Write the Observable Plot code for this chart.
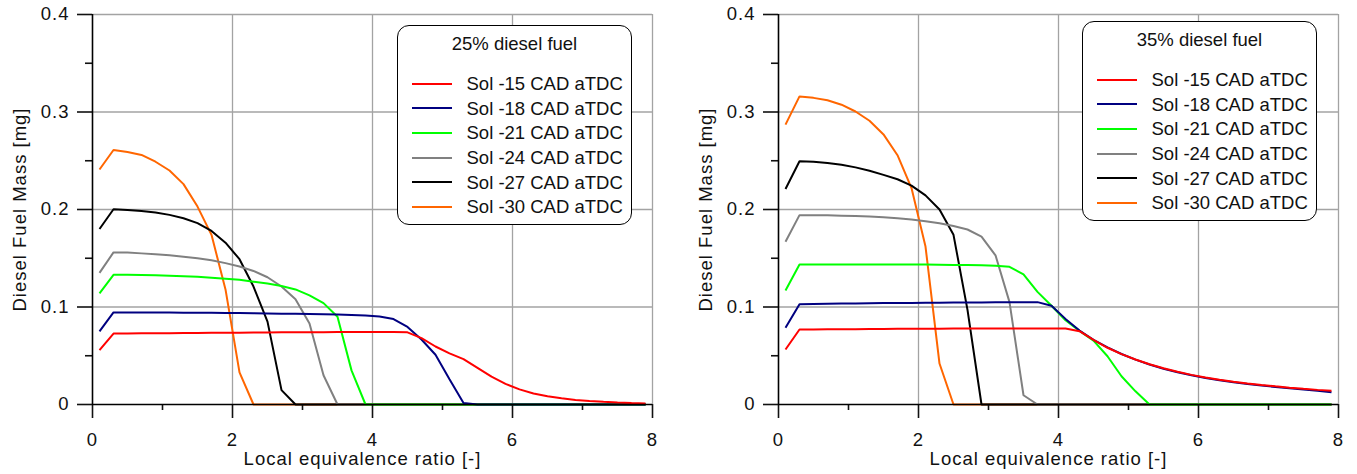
<!DOCTYPE html>
<html>
<head>
<meta charset="utf-8">
<script src="https://cdn.jsdelivr.net/npm/d3@7"></script>
<script src="https://cdn.jsdelivr.net/npm/@observablehq/plot@0.6"></script>
<style>
  html, body { margin: 0; padding: 0; background: #fff; }
  #fig { position: relative; width: 1357px; height: 474px; display: flex; font-family: "Liberation Sans", Arial, sans-serif; }
  #fig svg text { font-size: 18.5px; letter-spacing: 1px; }
  .panel { position: relative; height: 474px; flex: none; }
  .legend { position: absolute; box-sizing: border-box; width: 235px; height: 200px;
            border: 1px solid #000; border-radius: 12px; background: #fff;
            font-size: 18.5px; color: #111; }
  .legend .title { position: absolute; left: 0; right: 0; text-align: center; line-height: 20px; white-space: nowrap; }
  .legend .swatch { position: absolute; left: 14px; width: 40px; height: 2px; }
  .legend .label { position: absolute; left: 68.5px; line-height: 20px; white-space: nowrap; }
</style>
</head>
<body>
<div id="fig"></div>
<script>
// Local equivalence ratio at which each fuel-mass value is reported [-]
const phi = [0.1, 0.3, 0.5, 0.7, 0.9, 1.1, 1.3, 1.5, 1.7, 1.9,
             2.1, 2.3, 2.5, 2.7, 2.9, 3.1, 3.3, 3.5, 3.7, 3.9,
             4.1, 4.3, 4.5, 4.7, 4.9, 5.1, 5.3, 5.5, 5.7, 5.9,
             6.1, 6.3, 6.5, 6.7, 6.9, 7.1, 7.3, 7.5, 7.7, 7.9];

// Start-of-injection cases and their line colours
const seriesNames = ["Sol -15 CAD aTDC", "Sol -18 CAD aTDC", "Sol -21 CAD aTDC",
                     "Sol -24 CAD aTDC", "Sol -27 CAD aTDC", "Sol -30 CAD aTDC"];
const seriesColors = ["#ff0000", "#000080", "#00ff00", "#808080", "#000000", "#ff6600"];

// 25% diesel fuel: diesel fuel mass [mg]
const sol15_25 = [0.0557, 0.0728, 0.0729, 0.0730, 0.0731, 0.0732, 0.0733, 0.0734, 0.0735, 0.0736,
                  0.0737, 0.0738, 0.0739, 0.0740, 0.0741, 0.0742, 0.0742, 0.0743, 0.0743, 0.0744,
                  0.0744, 0.0744, 0.0740, 0.0680, 0.0595, 0.0525, 0.0465, 0.0375, 0.0285, 0.0212,
                  0.0155, 0.0113, 0.0085, 0.0063, 0.0047, 0.0036, 0.0028, 0.0021, 0.0015, 0.0010];
const sol18_25 = [0.0750, 0.0944, 0.0944, 0.0944, 0.0943, 0.0943, 0.0942, 0.0941, 0.0940, 0.0939,
                  0.0938, 0.0936, 0.0934, 0.0932, 0.0930, 0.0928, 0.0926, 0.0923, 0.0918, 0.0912,
                  0.0903, 0.0876, 0.0795, 0.0667, 0.0510, 0.0260, 0.0015, 0, 0, 0,
                  0, 0, 0, 0, 0, 0, 0, 0, 0, 0];
const sol21_25 = [0.1140, 0.1330, 0.1330, 0.1328, 0.1325, 0.1320, 0.1315, 0.1310, 0.1300, 0.1290,
                  0.1280, 0.1260, 0.1240, 0.1215, 0.1180, 0.1120, 0.1040, 0.0900, 0.0350, 0,
                  0, 0, 0, 0, 0, 0, 0, 0, 0, 0,
                  0, 0, 0, 0, 0, 0, 0, 0, 0, 0];
const sol24_25 = [0.1350, 0.1560, 0.1558, 0.1550, 0.1540, 0.1530, 0.1515, 0.1500, 0.1480, 0.1450,
                  0.1415, 0.1370, 0.1305, 0.1210, 0.1080, 0.0830, 0.0300, 0, 0, 0,
                  0, 0, 0, 0, 0, 0, 0, 0, 0, 0,
                  0, 0, 0, 0, 0, 0, 0, 0, 0, 0];
const sol27_25 = [0.1800, 0.2003, 0.1995, 0.1985, 0.1970, 0.1945, 0.1910, 0.1860, 0.1780, 0.1660,
                  0.1490, 0.1210, 0.0850, 0.0147, 0, 0, 0, 0, 0, 0,
                  0, 0, 0, 0, 0, 0, 0, 0, 0, 0,
                  0, 0, 0, 0, 0, 0, 0, 0, 0, 0];
const sol30_25 = [0.2410, 0.2610, 0.2590, 0.2560, 0.2490, 0.2400, 0.2260, 0.2030, 0.1740, 0.1180,
                  0.0330, 0, 0, 0, 0, 0, 0, 0, 0, 0,
                  0, 0, 0, 0, 0, 0, 0, 0, 0, 0,
                  0, 0, 0, 0, 0, 0, 0, 0, 0, 0];

// 35% diesel fuel: diesel fuel mass [mg]
const sol15_35 = [0.0564, 0.0769, 0.0770, 0.0771, 0.0772, 0.0773, 0.0774, 0.0775, 0.0776, 0.0777,
                  0.0778, 0.0778, 0.0779, 0.0779, 0.0780, 0.0780, 0.0780, 0.0780, 0.0780, 0.0780,
                  0.0780, 0.0752, 0.0662, 0.0582, 0.0517, 0.0461, 0.0413, 0.0371, 0.0335, 0.0304,
                  0.0277, 0.0254, 0.0234, 0.0216, 0.0200, 0.0186, 0.0173, 0.0161, 0.0150, 0.0140];
const sol18_35 = [0.0786, 0.1029, 0.1031, 0.1033, 0.1035, 0.1037, 0.1039, 0.1040, 0.1041, 0.1042,
                  0.1043, 0.1044, 0.1045, 0.1046, 0.1047, 0.1048, 0.1049, 0.1050, 0.1050, 0.1013,
                  0.0878, 0.0758, 0.0664, 0.0585, 0.0518, 0.0460, 0.0410, 0.0367, 0.0330, 0.0299,
                  0.0272, 0.0249, 0.0229, 0.0211, 0.0195, 0.0180, 0.0166, 0.0153, 0.0140, 0.0125];
const sol21_35 = [0.1170, 0.1436, 0.1437, 0.1437, 0.1437, 0.1437, 0.1437, 0.1437, 0.1436, 0.1436,
                  0.1435, 0.1434, 0.1432, 0.1430, 0.1427, 0.1423, 0.1412, 0.1335, 0.1155, 0.1013,
                  0.0864, 0.0755, 0.0655, 0.0495, 0.0290, 0.0135, 0, 0, 0, 0,
                  0, 0, 0, 0, 0, 0, 0, 0, 0, 0];
const sol24_35 = [0.1670, 0.1942, 0.1942, 0.1940, 0.1937, 0.1933, 0.1927, 0.1920, 0.1910, 0.1898,
                  0.1880, 0.1858, 0.1830, 0.1795, 0.1722, 0.1530, 0.1050, 0.0095, 0, 0,
                  0, 0, 0, 0, 0, 0, 0, 0, 0, 0,
                  0, 0, 0, 0, 0, 0, 0, 0, 0, 0];
const sol27_35 = [0.2210, 0.2495, 0.2490, 0.2477, 0.2458, 0.2432, 0.2397, 0.2355, 0.2310, 0.2245,
                  0.2145, 0.2000, 0.1740, 0.0970, 0, 0, 0, 0, 0, 0,
                  0, 0, 0, 0, 0, 0, 0, 0, 0, 0,
                  0, 0, 0, 0, 0, 0, 0, 0, 0, 0];
const sol30_35 = [0.2870, 0.3160, 0.3145, 0.3120, 0.3075, 0.3005, 0.2910, 0.2770, 0.2557, 0.2220,
                  0.1620, 0.0420, 0, 0, 0, 0, 0, 0, 0, 0,
                  0, 0, 0, 0, 0, 0, 0, 0, 0, 0,
                  0, 0, 0, 0, 0, 0, 0, 0, 0, 0];

// Axis ticks
const xMajor = [0, 2, 4, 6, 8];
const xMinor = [1, 3, 5, 7];
const yMajor = [0, 0.1, 0.2, 0.3, 0.4];
const yMinor = [0.05, 0.15, 0.25, 0.35];
const xGrid = [2, 4, 6, 8];
const yGrid = [0.1, 0.2, 0.3, 0.4];

const xTitle = "Local equivalence ratio [-]";
const yTitle = "Diesel Fuel Mass [mg]";

const panels = [
  {legendTitle: "25% diesel fuel", values: [sol15_25, sol18_25, sol21_25, sol24_25, sol27_25, sol30_25],
   width: 680, marginLeft: 92, marginRight: 28, legendLeft: 397, legendTop: 25},
  {legendTitle: "35% diesel fuel", values: [sol15_35, sol18_35, sol21_35, sol24_35, sol27_35, sol30_35],
   width: 677, marginLeft: 98, marginRight: 19, legendLeft: 402, legendTop: 21}
];

const axisStroke = 1.6;
const gridColor = "#a3a3a3";

function drawPanel(p) {
  // Long table; the last case is drawn first so the earlier ones lie on top
  const rows = [];
  for (let s = seriesNames.length - 1; s >= 0; --s) {
    p.values[s].forEach((v, i) => rows.push({name: seriesNames[s], phi: phi[i], mass: v}));
  }
  const axisText = {fontSize: 18.5};
  return Plot.plot({
    width: p.width,
    height: 474,
    marginTop: 14,
    marginBottom: 70,
    marginLeft: p.marginLeft,
    marginRight: p.marginRight,
    style: {fontFamily: '"Liberation Sans", Arial, sans-serif', fontSize: "18.5px",
            color: "#111", background: "#fff", overflow: "visible"},
    x: {domain: [0, 8]},
    y: {domain: [0, 0.4]},
    color: {domain: seriesNames, range: seriesColors},
    marks: [
      Plot.ruleX(xGrid, {stroke: gridColor, strokeWidth: 1.3}),
      Plot.ruleY(yGrid, {stroke: gridColor, strokeWidth: 1.3}),
      Plot.line(rows, {x: "phi", y: "mass", z: "name", stroke: "name", strokeWidth: 2,
                       strokeLinejoin: "miter", strokeLinecap: "butt"}),
      Plot.axisX(xMajor, {tickSize: 14, tickPadding: 14, tickFormat: d => String(d),
                          label: null, strokeWidth: axisStroke, ...axisText}),
      Plot.axisX(xMinor, {tickSize: 6, tickFormat: () => "", label: null, strokeWidth: axisStroke}),
      Plot.axisY(yMajor, {tickSize: 15, tickPadding: 8, tickFormat: d => d === 0 ? "0" : d.toFixed(1),
                          label: null, strokeWidth: axisStroke, ...axisText}),
      Plot.axisY(yMinor, {tickSize: 7, tickFormat: () => "", label: null, strokeWidth: axisStroke}),
      Plot.ruleX([0], {stroke: "#000", strokeWidth: axisStroke}),
      Plot.ruleY([0], {stroke: "#000", strokeWidth: axisStroke}),
      Plot.text([xTitle], {text: d => d, frameAnchor: "bottom", textAnchor: "middle", dx: -10, dy: 60,
                           lineAnchor: "bottom", fill: "#111", ...axisText}),
      Plot.text([yTitle], {text: d => d, frameAnchor: "left", textAnchor: "middle", rotate: -90, dx: -67,
                           lineAnchor: "bottom", fill: "#111", ...axisText})
    ]
  });
}

function drawLegend(p) {
  const box = document.createElement("div");
  box.className = "legend";
  box.style.left = p.legendLeft + "px";
  box.style.top = p.legendTop + "px";
  const title = document.createElement("div");
  title.className = "title";
  title.style.top = "7.5px";
  title.textContent = p.legendTitle;
  box.appendChild(title);
  seriesNames.forEach((name, i) => {
    const sw = document.createElement("div");
    sw.className = "swatch";
    sw.style.top = Math.round(56.5 + 24.67 * i) + "px";
    sw.style.background = seriesColors[i];
    box.appendChild(sw);
    const lab = document.createElement("div");
    lab.className = "label";
    lab.style.top = (48 + 24.67 * i) + "px";
    lab.textContent = name;
    box.appendChild(lab);
  });
  return box;
}

const fig = document.getElementById("fig");
for (const p of panels) {
  const wrap = document.createElement("div");
  wrap.className = "panel";
  wrap.style.width = p.width + "px";
  wrap.appendChild(drawPanel(p));
  wrap.appendChild(drawLegend(p));
  fig.appendChild(wrap);
}
</script>
</body>
</html>
